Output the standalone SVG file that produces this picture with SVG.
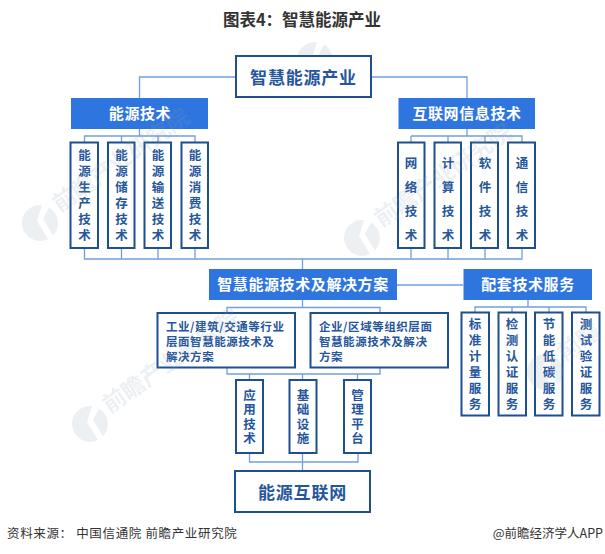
<svg xmlns="http://www.w3.org/2000/svg" width="605" height="554" viewBox="0 0 605 554">
<style>
text{font-family:"Noto Sans CJK SC","Noto Sans",sans-serif}
.box{fill:#fff;stroke:#1d4f91;stroke-width:2}
.head{fill:#2f75df}
.lnk{fill:none;stroke:#729fdc;stroke-width:1.3}
.ht{fill:#fff;font-weight:700;text-anchor:middle;font-size:15px;letter-spacing:.6px}
.bt{fill:#25569b;font-weight:700;text-anchor:middle;font-size:17px;letter-spacing:.8px}
.v{fill:#25569b;font-weight:700;font-size:12.5px;writing-mode:vertical-rl;text-orientation:upright}
.v6{letter-spacing:3.5px}
.v4{letter-spacing:11.5px}
.v4s{letter-spacing:2.1px}
.m{fill:#25569b;font-weight:700;font-size:11.5px;letter-spacing:.55px}
.wm{fill:#8fa0b5;font-weight:700;font-size:23px}
.wl{fill:#8fa0b5}
.src{fill:#333;font-size:12.5px;letter-spacing:.65px}
</style>
<defs>
<g id="logo"><path class="wl" d="M2 -18A18 18 0 1 0 8 16L-3 -2Z"/><path class="wl" d="M9 -15.500A18 18 0 0 1 13 12.500L3 -4Z"/></g>
</defs>
<g id="watermark-top" opacity=".16"><use href="#logo" x="315" y="60"/></g>
<text id="title" x="302" y="26" text-anchor="middle" font-size="16.500" font-weight="700" fill="#333">图表4：智慧能源产业</text>
<g id="connectors">
<path class="lnk" d="M236 77H139.500V98M371 77H467V98"/>
<path class="lnk" d="M139.500 129V136M84.500 142V136H195V142M121.500 136V142M158 136V142"/>
<path class="lnk" d="M467 129V136M411 136H522V142M411 136V142M448 136V142M485 136V142"/>
<path class="lnk" d="M84.500 248V259H522V248M121.500 248V259M158 248V259M195 248V259M411 248V259M448 248V259M485 248V259M302.500 259V269"/>
<path class="lnk" d="M397 285H463"/>
<path class="lnk" d="M227 313V307.500H380V313M302.500 300V307"/>
<path class="lnk" d="M227 367V374H380V367M249.500 374V380M302.500 374V380M357.500 374V380"/>
<path class="lnk" d="M249.500 453V462H358V453M302.500 453V471"/>
<path class="lnk" d="M528 300V307M475 312V307H586V312M512 307V312M549 307V312"/>
</g>
<g id="root"><rect class="box" x="236" y="56" width="135" height="41"/><text class="bt" x="303.500" y="84">智慧能源产业</text></g>
<g id="energy-tech"><rect class="head" x="71" y="98" width="137" height="31"/><text class="ht" x="140" y="119">能源技术</text></g>
<g id="it-tech"><rect class="head" x="398.500" y="98" width="136.500" height="31"/><text class="ht" x="467" y="119">互联网信息技术</text></g>
<g id="n1"><rect class="box" x="70.500" y="142.500" width="27.500" height="105.500"/><text class="v v6" x="84.500" y="149">能源生产技术</text></g>
<g id="n2"><rect class="box" x="108" y="142.500" width="26.500" height="105.500"/><text class="v v6" x="121.500" y="149">能源储存技术</text></g>
<g id="n3"><rect class="box" x="144.500" y="142.500" width="26.500" height="105.500"/><text class="v v6" x="158" y="149">能源输送技术</text></g>
<g id="n4"><rect class="box" x="181.500" y="142.500" width="26.500" height="105.500"/><text class="v v6" x="195" y="149">能源消费技术</text></g>
<g id="n5"><rect class="box" x="398" y="142.500" width="26.500" height="105.500"/><text class="v v4" x="411" y="157">网络技术</text></g>
<g id="n6"><rect class="box" x="434.500" y="142.500" width="26.500" height="105.500"/><text class="v v4" x="448" y="157">计算技术</text></g>
<g id="n7"><rect class="box" x="471" y="142.500" width="27" height="105.500"/><text class="v v4" x="485" y="157">软件技术</text></g>
<g id="n8"><rect class="box" x="508" y="142.500" width="27" height="105.500"/><text class="v v4" x="522" y="157">通信技术</text></g>
<g id="solutions"><rect class="head" x="209" y="269" width="188" height="31"/><text class="ht" x="303" y="290">智慧能源技术及解决方案</text></g>
<g id="services"><rect class="head" x="463.500" y="269" width="128.500" height="31"/><text class="ht" x="528" y="290">配套技术服务</text></g>
<g id="s1"><rect class="box" x="157.500" y="313" width="137.500" height="54.500"/><text class="m" x="166" y="330.500">工业/建筑/交通等行业</text><text class="m" x="166" y="345.500">层面智慧能源技术及</text><text class="m" x="166" y="360.500">解决方案</text></g>
<g id="s2"><rect class="box" x="310.500" y="313" width="137.500" height="54.500"/><text class="m" x="319" y="330.500">企业/区域等组织层面</text><text class="m" x="319" y="345.500">智慧能源技术及解决</text><text class="m" x="319" y="360.500">方案</text></g>
<g id="a1"><rect class="box" x="236" y="380" width="27" height="73"/><text class="v v4s" x="249.500" y="388.500">应用技术</text></g>
<g id="a2"><rect class="box" x="289.500" y="380" width="27" height="73"/><text class="v v4s" x="303" y="388.500">基础设施</text></g>
<g id="a3"><rect class="box" x="344" y="380" width="27" height="73"/><text class="v v4s" x="357.500" y="388.500">管理平台</text></g>
<g id="internet"><rect class="box" x="235" y="471" width="135" height="41"/><text class="bt" x="302.500" y="499">能源互联网</text></g>
<g id="t1"><rect class="box" x="461.500" y="312.500" width="27.500" height="103"/><text class="v v6" x="475" y="318">标准计量服务</text></g>
<g id="t2"><rect class="box" x="498.500" y="312.500" width="27.500" height="103"/><text class="v v6" x="512" y="318">检测认证服务</text></g>
<g id="t3"><rect class="box" x="535" y="312.500" width="27.500" height="103"/><text class="v v6" x="549" y="318">节能低碳服务</text></g>
<g id="t4"><rect class="box" x="572" y="312.500" width="27.500" height="103"/><text class="v v6" x="586" y="318">测试验证服务</text></g>
<text id="source" class="src" x="7" y="538">资料来源： 中国信通院 前瞻产业研究院</text>
<text id="credit" class="src" x="603" y="538" text-anchor="end" style="letter-spacing:0">@前瞻经济学人APP</text>
<g id="watermarks" opacity=".16">
<g transform="translate(40,223)"><use href="#logo"/><text class="wm" x="22" y="3" transform="rotate(-35)">前瞻产业研究院</text></g>
<g transform="translate(362,238)"><use href="#logo"/><text class="wm" x="22" y="3" transform="rotate(-35)">前瞻产业研究院</text></g>
<g transform="translate(90,424)"><use href="#logo"/><text class="wm" x="22" y="3" transform="rotate(-35)">前瞻产业研究院</text></g>
<g transform="translate(545,372)"><use href="#logo"/><text class="wm" x="22" y="3" transform="rotate(-35)">前瞻</text></g>
</g>
</svg>
